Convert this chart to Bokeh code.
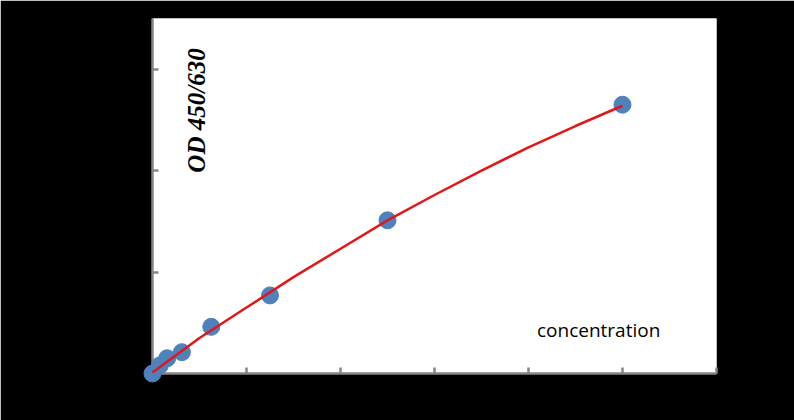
import math
from bokeh.plotting import figure
from bokeh.models import Label, FixedTicker, Range1d
from bokeh.embed import file_html
from bokeh.resources import INLINE

# --- data ---
conc = [0, 0.78, 1.56, 3.125, 6.25, 12.5, 25, 50]
od = [0.0, 0.08, 0.15, 0.21, 0.46, 0.77, 1.51, 2.65]

fit_x = [0, 5, 10, 15, 20, 25, 30, 35, 40, 45, 50]
fit_y = [0.01, 0.35, 0.65, 0.95, 1.23, 1.51, 1.76, 2.00, 2.23, 2.44, 2.64]

x_ticks = [0, 10, 20, 30, 40, 50, 60]
y_ticks = [0, 1, 2, 3]

y_title = "OD 450/630"
x_title = "concentration"

p = figure(width=794, height=420, output_backend="svg", toolbar_location=None,
           x_range=Range1d(0, 60), y_range=Range1d(0, 3.5),
           min_border_left=152, min_border_right=78, min_border_top=18,
           min_border_bottom=47)
p.background_fill_color = "white"
p.border_fill_color = "black"
p.outline_line_color = None
p.grid.visible = False

for ax in (p.xaxis[0], p.yaxis[0]):
    ax.axis_line_color = "#868686"
    ax.axis_line_width = 2.5
    ax.major_tick_line_color = "#868686"
    ax.major_tick_line_width = 2.5
    ax.major_tick_in = 6
    ax.major_tick_out = 0
    ax.minor_tick_line_color = None
    ax.major_label_text_color = "black"
    ax.major_label_text_font = "Calibri"
    ax.major_label_text_font_size = "12px"
    ax.major_label_standoff = 6

p.xaxis[0].ticker = FixedTicker(ticks=x_ticks)
p.yaxis[0].ticker = FixedTicker(ticks=y_ticks)

p.scatter(conc, od, size=17, color="#4F81BD", line_color="#4F81BD",
          level="annotation")
p.line(fit_x, fit_y, line_color="#E01818", line_width=2.5, level="overlay")

p.add_layout(Label(x=4.7, y=1.98, text=y_title, angle=math.pi / 2,
                   text_font="Liberation Serif", text_font_style="bold italic",
                   text_font_size="25px", text_color="black",
                   text_align="left", text_baseline="middle"))
p.add_layout(Label(x=40.9, y=0.43, text=x_title,
                   text_font="Open Sans", text_font_size="19px",
                   text_color="black", text_align="left",
                   text_baseline="alphabetic"))

open("out.html", "w").write(file_html(p, INLINE))
